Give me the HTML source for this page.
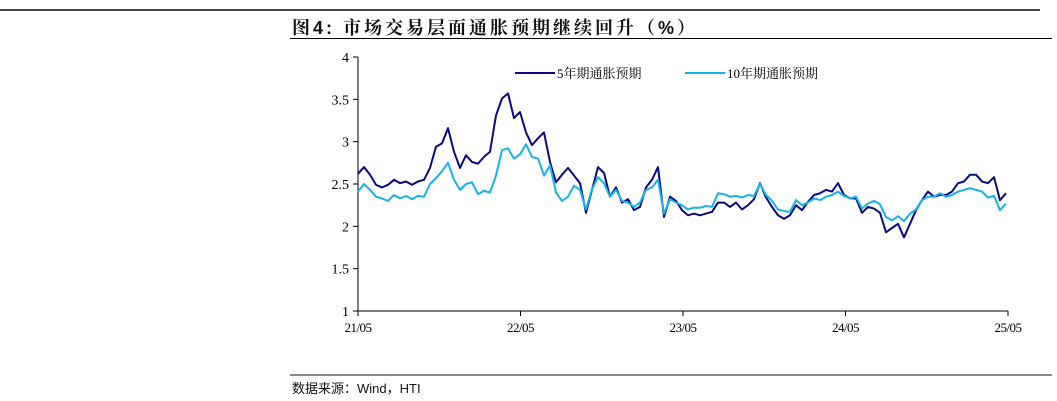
<!DOCTYPE html>
<html><head><meta charset="utf-8">
<style>
body{margin:0;background:#fff;width:1057px;height:401px;overflow:hidden;position:relative;font-family:"Liberation Serif","Noto Serif CJK SC",serif;}
.abs{position:absolute}
</style></head>
<body>
<div class="abs" style="left:0;top:9px;width:1040px;height:2px;background:#444"></div>
<div class="abs" style="left:292px;top:14px;font-family:'Liberation Sans','Noto Serif CJK SC',serif;font-weight:bold;font-size:18px;letter-spacing:3px;color:#111;white-space:nowrap">图4:&nbsp;市场交易层面通胀预期继续回升（%）</div>
<div class="abs" style="left:290px;top:38px;width:762px;height:1px;background:#000"></div>
<div class="abs" style="left:290px;top:374px;width:762px;height:2px;background:#888"></div>
<div class="abs" style="left:292px;top:378px;font-family:'Liberation Sans','Noto Sans CJK SC',sans-serif;font-size:13px;color:#111;white-space:nowrap">数据来源：Wind，HTI</div>
<svg class="abs" style="left:0;top:0" width="1057" height="401" id="chart"></svg>
<script>
const yTicks=[1,1.5,2,2.5,3,3.5,4];
const yTickLabels=["1","1.5","2","2.5","3","3.5","4"];
const xTickLabels=["21/05","22/05","23/05","24/05","25/05"];
const series5y=[2.62,2.7,2.61,2.49,2.46,2.49,2.55,2.51,2.53,2.49,2.53,2.55,2.69,2.94,2.98,3.16,2.88,2.69,2.84,2.76,2.74,2.82,2.88,3.31,3.51,3.57,3.28,3.35,3.11,2.96,3.04,3.11,2.76,2.52,2.61,2.69,2.6,2.51,2.16,2.43,2.7,2.63,2.35,2.46,2.28,2.32,2.19,2.23,2.46,2.55,2.7,2.11,2.35,2.3,2.19,2.13,2.15,2.13,2.15,2.17,2.28,2.28,2.23,2.28,2.2,2.25,2.32,2.51,2.34,2.23,2.13,2.09,2.13,2.25,2.19,2.29,2.37,2.39,2.43,2.41,2.51,2.37,2.33,2.33,2.16,2.23,2.21,2.16,1.93,1.98,2.03,1.87,2.03,2.19,2.31,2.41,2.35,2.37,2.37,2.41,2.51,2.53,2.61,2.61,2.53,2.51,2.58,2.31,2.39];
const series10y=[2.41,2.5,2.43,2.35,2.33,2.3,2.37,2.33,2.36,2.32,2.36,2.35,2.5,2.57,2.65,2.75,2.55,2.43,2.5,2.52,2.38,2.42,2.4,2.6,2.9,2.92,2.8,2.85,2.97,2.82,2.8,2.6,2.72,2.4,2.3,2.35,2.48,2.43,2.2,2.44,2.58,2.51,2.35,2.43,2.3,2.28,2.23,2.28,2.43,2.46,2.55,2.15,2.32,2.28,2.25,2.2,2.22,2.22,2.24,2.23,2.39,2.38,2.35,2.36,2.34,2.37,2.36,2.5,2.37,2.3,2.2,2.18,2.17,2.31,2.25,2.28,2.33,2.31,2.35,2.37,2.41,2.36,2.33,2.35,2.21,2.27,2.3,2.26,2.11,2.07,2.12,2.06,2.15,2.2,2.31,2.35,2.35,2.39,2.35,2.37,2.41,2.43,2.45,2.43,2.41,2.34,2.36,2.19,2.27];
const stepsPerYear=162.5/6;
const X0=358,X1=1008,Y0=311,Y1=57;
function xScale(i){return X0+i*(X1-X0)/(4*stepsPerYear);}
function yScale(v){return Y0-(v-1)*(Y0-Y1)/3;}
const svg=document.getElementById('chart');const NS='http://www.w3.org/2000/svg';
function mk(t,a){const e=document.createElementNS(NS,t);for(const k in a)e.setAttribute(k,a[k]);svg.appendChild(e);return e;}
let e=mk('line',{x1:X0,y1:Y1,x2:X0,y2:Y0,stroke:'#000','stroke-width':1});


e=mk('line',{x1:X0,y1:Y0,x2:X1,y2:Y0,stroke:'#000','stroke-width':1});


yTicks.forEach((v,k)=>{const y=yScale(v);
 let t=mk('line',{x1:X0-5,y1:y,x2:X0,y2:y,stroke:'#000'});
 
 
 let l=mk('text',{x:X0-9,y:y+5,'text-anchor':'end','font-size':14,fill:'#000'});l.textContent=yTickLabels[k];
 
 
});
xTickLabels.forEach((s,k)=>{const x=xScale(k*stepsPerYear);
 let t=mk('line',{x1:x,y1:Y0,x2:x,y2:Y0+5,stroke:'#000'});
 
 
 let l=mk('text',{x:x,y:Y0+21,'text-anchor':'middle','font-size':13,fill:'#000','letter-spacing':'-0.5'});l.textContent=s;
 
 
});
function line(arr,color,name){const p=arr.map((v,i)=>(i?'L':'M')+xScale(i).toFixed(1)+','+yScale(v).toFixed(1)).join('');
 const el=mk('path',{d:p,fill:'none',stroke:color,'stroke-width':2,'stroke-linejoin':'round'});
 
 }
line(series5y,'#0a0a80','series-5y-line');
line(series10y,'#16b2ea','series-10y-line');
const legend=[['5年期通胀预期','#0a0a80',515],['10年期通胀预期','#16b2ea',685]];
legend.forEach(([txt,c,x])=>{
 let l=mk('line',{x1:x,y1:73,x2:x+40,y2:73,stroke:c,'stroke-width':2});
 
 
 let t=mk('text',{x:x+42,y:78,'font-size':13,fill:'#000'});t.textContent=txt;
 
 
});
</script>
</body></html>
